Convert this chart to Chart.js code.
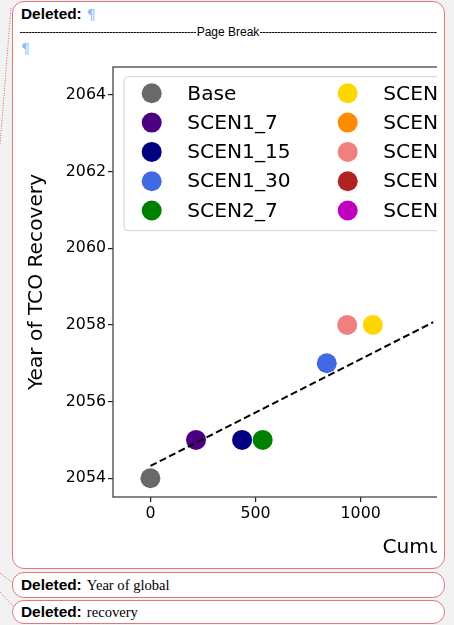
<!DOCTYPE html>
<html>
<head>
<meta charset="utf-8">
<script src="https://cdn.jsdelivr.net/npm/chart.js@4.4.1/dist/chart.umd.min.js"></script>
<style>
  html, body { margin: 0; padding: 0; }
  body {
    width: 454px; height: 625px; position: relative; overflow: hidden;
    background: #f2f2f2; font-family: "DejaVu Sans", sans-serif;
  }
  .balloon {
    position: absolute; left: 12px; width: 432.5px; box-sizing: border-box;
    background: #fff; border: 1.5px solid #e2767d; border-radius: 12px;
  }
  #b1 { top: 1px; height: 568px; }
  #b2 { top: 572px; height: 25.5px; }
  #b3 { top: 599.5px; height: 24.5px; }
  .row { position: absolute; left: 21px; white-space: nowrap; line-height: 16px; }
  .lbl { font-family: "Liberation Sans", sans-serif; font-weight: bold; font-size: 15.4px; color: #000; }
  .serif { font-family: "Liberation Serif", serif; font-size: 14.6px; color: #000; }
  .para { color: #8fc0f2; font-family: "DejaVu Sans", sans-serif; font-size: 14px; }
  #pb {
    position: absolute; left: 20px; top: 32px; width: 417px; height: 1px;
    background: repeating-linear-gradient(to right, #111 0 2px, #777 2px 3px);
  }
  #pbText {
    position: absolute; left: 0; width: 456px; top: 24px; text-align: center;
    font-family: "Liberation Sans", sans-serif; font-size: 12px; line-height: 16px; color: #000;
  }
  #pbText span { background: #fff; padding: 0 1px; }
  #plot {
    position: absolute; left: 14px; top: 55px; width: 423px; height: 510px; overflow: hidden;
  }
  #links { position: absolute; left: 0; top: 0; }
</style>
</head>
<body>
<svg id="links" width="454" height="625">
  <line x1="11" y1="8" x2="0" y2="145" stroke="#e0636f" stroke-width="1" stroke-dasharray="1 1.5"/>
  <line x1="0" y1="573" x2="13" y2="583" stroke="#e0636f" stroke-width="1" stroke-dasharray="1 1.5"/>
  <line x1="0" y1="592" x2="13" y2="606" stroke="#e0636f" stroke-width="1" stroke-dasharray="1 1.5"/>
</svg>

<div class="balloon" id="b1"></div>
<div class="balloon" id="b2"></div>
<div class="balloon" id="b3"></div>

<div class="row" style="top:6px"><span class="lbl">Deleted:</span> <span class="para">¶</span></div>
<div id="pb"></div>
<div id="pbText"><span>Page Break</span></div>
<div class="row" style="top:40px"><span class="para">¶</span></div>

<div class="row" style="top:577px"><span class="lbl">Deleted:</span> <span class="serif">Year of global</span></div>
<div class="row" style="top:604px"><span class="lbl">Deleted:</span> <span class="serif">recovery</span></div>

<div id="plot"><canvas id="c" width="763" height="510"></canvas></div>

<script>
// Scenario names, marker colours and their (cumulative, recovery year) values
const seriesNames = ['Base', 'SCEN1_7', 'SCEN1_15', 'SCEN1_30', 'SCEN2_7',
                     'SCEN2_15', 'SCEN2_30', 'SCEN3_7', 'SCEN3_15', 'SCEN3_30'];
const seriesColors = ['#696969', '#4b0082', '#000080', '#4169e1', '#008000',
                      '#ffd700', '#ff8c00', '#f08080', '#b22222', '#bf00bf'];
const cumulative   = [0, 217, 436, 839, 534, 1058, null, 936, null, null];
const recoveryYear = [2054, 2055, 2055, 2057, 2055, 2058, null, 2058, null, null];

// Linear fit drawn as a dashed line (end points)
const trendX = [0, 1345];
const trendY = [2054.32, 2058.07];

// Axis ticks
const xTicks = [0, 500, 1000, 1500, 2000, 2500];
const yTicks = [2054, 2056, 2058, 2060, 2062, 2064];

const FONT = 'DejaVu Sans';
const TICK_SIZE = 15.8;
const LABEL_SIZE = 20.2;

const datasets = seriesNames.map((name, i) => ({
  label: name,
  data: cumulative[i] === null ? [] : [{ x: cumulative[i], y: recoveryYear[i] }],
  backgroundColor: seriesColors[i],
  borderWidth: 0,
  pointRadius: 10,
  pointHoverRadius: 10,
  order: 1
}));
datasets.push({
  type: 'line',
  label: 'fit',
  data: trendX.map((x, i) => ({ x, y: trendY[i] })),
  borderColor: '#000',
  borderWidth: 2,
  borderDash: [7, 3.5],
  pointRadius: 0,
  fill: false,
  order: 0
});

// Axes frame (left, top, bottom spines)
const frame = {
  id: 'frame',
  beforeDatasetsDraw(chart) {
    const { ctx, chartArea: a } = chart;
    ctx.save();
    ctx.strokeStyle = '#444';
    ctx.lineWidth = 1.3;
    ctx.strokeRect(a.left, a.top, a.right - a.left, a.bottom - a.top);
    ctx.restore();
  }
};

// Two-column legend inside the axes, column-major order
const boxLegend = {
  id: 'boxLegend',
  afterDatasetsDraw(chart) {
    const { ctx, chartArea: a } = chart;
    const rows = 5, rowH = 29.3, colW = 196;
    const left = a.left + 11, top = a.top + 9.7, height = 154;
    const markX = left + 27.7, textX = left + 63.3, firstRow = top + 16.6;
    ctx.save();
    ctx.font = LABEL_SIZE + 'px "' + FONT + '"';
    const col2Width = Math.max(...seriesNames.slice(rows).map(n => ctx.measureText(n).width));
    const width = (textX + colW + col2Width + 12) - left;
    ctx.beginPath();
    ctx.roundRect(left, top, width, height, 4);
    ctx.fillStyle = 'rgba(255,255,255,0.8)';
    ctx.fill();
    ctx.strokeStyle = '#d0d0d0';
    ctx.lineWidth = 1;
    ctx.stroke();
    ctx.textBaseline = 'middle';
    ctx.textAlign = 'left';
    seriesNames.forEach((name, i) => {
      const col = Math.floor(i / rows), row = i % rows;
      const cy = firstRow + row * rowH;
      ctx.beginPath();
      ctx.arc(markX + col * colW, cy, 10, 0, Math.PI * 2);
      ctx.fillStyle = seriesColors[i];
      ctx.fill();
      ctx.fillStyle = '#000';
      ctx.fillText(name, textX + col * colW, cy + 1);
    });
    ctx.restore();
  }
};

const plainTick = v => String(v);

new Chart(document.getElementById('c'), {
  type: 'scatter',
  data: { datasets },
  plugins: [frame, boxLegend],
  options: {
    responsive: false,
    animation: false,
    devicePixelRatio: 1,
    layout: { padding: { top: 12, left: 0, right: 0, bottom: 0 } },
    plugins: { legend: { display: false }, tooltip: { enabled: false } },
    scales: {
      x: {
        type: 'linear', position: 'bottom', min: -178, max: 2933,
        afterBuildTicks: s => { s.ticks = xTicks.map(v => ({ value: v })); },
        afterFit: s => { s.height = 68; },
        border: { display: false },
        grid: { display: true, drawOnChartArea: false, drawTicks: true, tickLength: 5, color: '#222', lineWidth: 1.2 },
        ticks: { color: '#000', font: { family: FONT, size: TICK_SIZE }, padding: 2, maxRotation: 0, autoSkip: false, callback: plainTick },
        title: { display: true, text: 'Cumulative', color: '#000', font: { family: FONT, size: LABEL_SIZE }, padding: { top: 0, bottom: 5 } }
      },
      y: {
        type: 'linear', min: 2053.51, max: 2064.73,
        afterBuildTicks: s => { s.ticks = yTicks.map(v => ({ value: v })); },
        afterFit: s => { s.width = 99; },
        border: { display: false },
        grid: { display: true, drawOnChartArea: false, drawTicks: true, tickLength: 5, color: '#222', lineWidth: 1.2 },
        ticks: { color: '#000', font: { family: FONT, size: TICK_SIZE }, padding: 2, autoSkip: false, callback: plainTick },
        title: { display: true, text: 'Year of TCO Recovery', color: '#000', font: { family: FONT, size: LABEL_SIZE }, padding: { top: 11, bottom: 0 } }
      }
    }
  }
});
</script>
</body>
</html>
